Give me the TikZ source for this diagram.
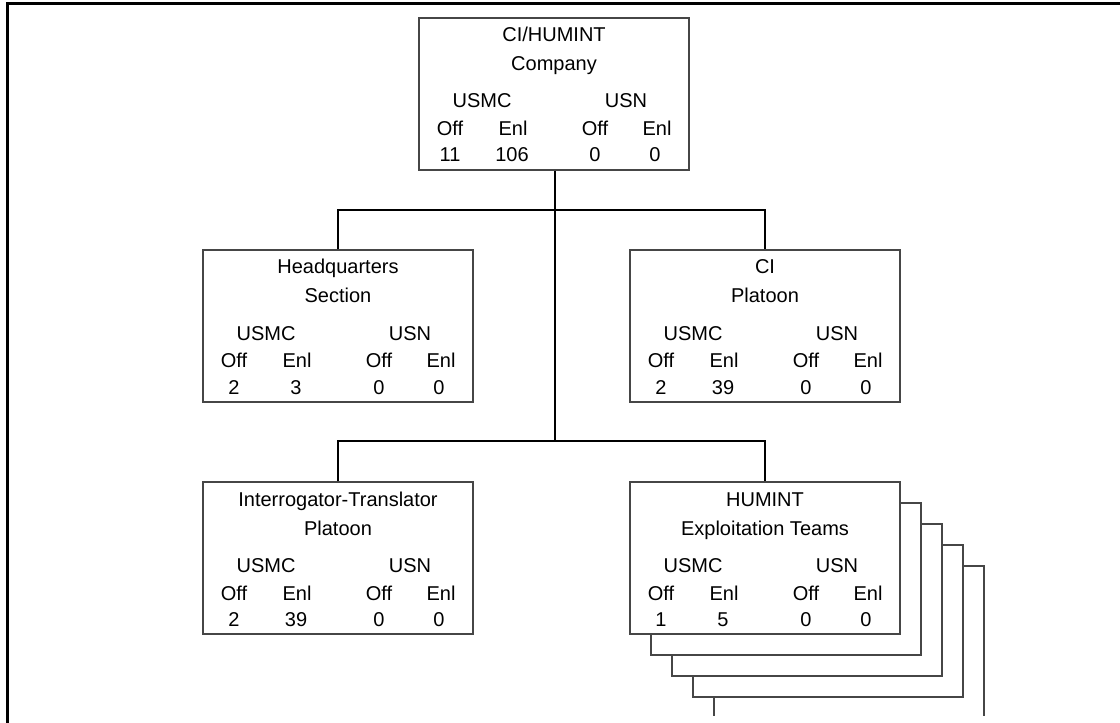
\documentclass[tikz,border=0pt]{standalone}
\usepackage{fontspec}
\setmainfont{Liberation Sans}
\usepackage{xcolor}
\definecolor{orgline}{RGB}{70,70,70}
\usetikzlibrary{positioning}

\begin{document}
\begin{tikzpicture}[x=0.75pt, y=-0.75pt,
  unitbox/.style={draw=orgline, line width=0.9pt, fill=white, inner sep=0pt,
                  minimum width=202.5pt, minimum height=114pt},
  card/.style={draw=orgline, line width=0.9pt, fill=white},
  lbl/.style={font=\fontsize{15}{18}\selectfont, anchor=base, inner sep=0pt},
  link/.style={draw=black, line width=1.1pt}]

\useasboundingbox (0,0) rectangle (1120,723);

% Page frame (cut at right and bottom)
\draw[line width=2.25pt] (7,723) -- (7,4) -- (1120,4);

% --- Stacked team cards behind the HUMINT box ---
\begin{scope}
  \clip (0,0) rectangle (1120,715);
  \foreach \k in {4,3,2,1} {
    \draw[card] (630+21*\k,482+21*\k) rectangle ++(270,152);
  }
\end{scope}

% --- Unit boxes: name/centre x/top y/title/subtitle/USMC off/enl/USN off/enl ---
\foreach \nm/\cx/\ty/\ta/\tb/\oa/\ea/\ob/\eb in {
    top/554/18/{CI/HUMINT}/Company/11/106/0/0,
    hq/338/250/Headquarters/Section/2/3/0/0,
    ci/765/250/CI/Platoon/2/39/0/0,
    it/338/482/Interrogator-Translator/Platoon/2/39/0/0,
    het/765/482/HUMINT/Exploitation Teams/1/5/0/0} {
  \node[unitbox] (\nm) at (\cx,\ty+76) {};
  \node[lbl] (\nm-t1) at (\cx,\ty+24) {\ta};
  \node[lbl] (\nm-t2) at (\cx,\ty+53) {\tb};
  \node[lbl] (\nm-usmc) at (\cx-72,\ty+90) {USMC};
  \node[lbl] (\nm-usn) at (\cx+72,\ty+90) {USN};
  \node[lbl] (\nm-off1) at (\cx-104,\ty+118) {Off};
  \node[lbl] (\nm-enl1) at (\cx-41,\ty+118) {Enl};
  \node[lbl] (\nm-off2) at (\cx+41,\ty+118) {Off};
  \node[lbl] (\nm-enl2) at (\cx+103,\ty+118) {Enl};
  \node[lbl] (\nm-n1) at (\cx-104,\ty+144) {\oa};
  \node[lbl] (\nm-n2) at (\cx-42,\ty+144) {\ea};
  \node[lbl] (\nm-n3) at (\cx+41,\ty+144) {\ob};
  \node[lbl] (\nm-n4) at (\cx+101,\ty+144) {\eb};
}

% --- Connectors ---
\coordinate (bus1) at (555,210);
\coordinate (bus2) at (555,441);
\draw[link] (top.south -| bus1) -- (bus2);
\draw[link] (hq.north) |- (bus1) -| (ci.north);
\draw[link] (it.north) |- (bus2) -| (het.north);

\end{tikzpicture}
\end{document}
